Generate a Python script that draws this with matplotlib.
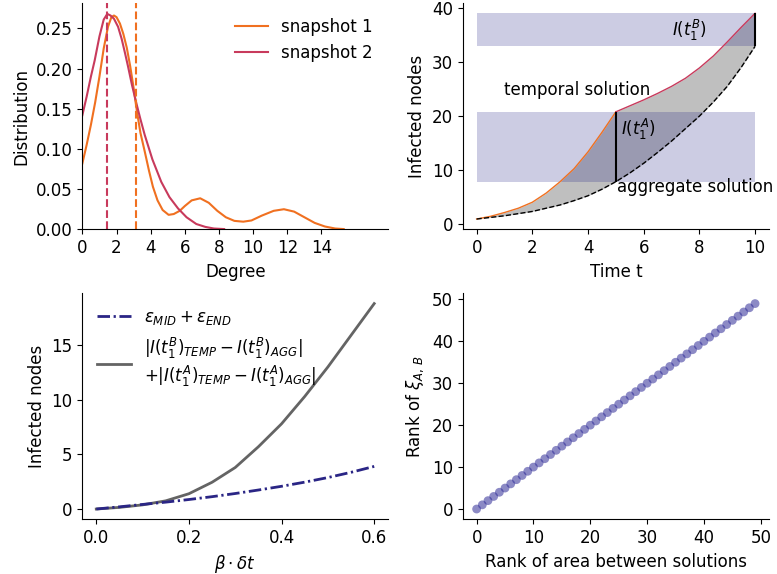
import matplotlib
matplotlib.use("Agg")
import matplotlib.pyplot as plt

plt.rcParams["font.size"] = 12
plt.rcParams["mathtext.fontset"] = "dejavusans"

# ---- degree distributions of two snapshots ----
deg_s1 = [0, 0.25, 0.5, 0.75, 1.0, 1.25, 1.5, 1.7, 1.85, 2.0, 2.2, 2.4, 2.6,
          2.8, 3.0, 3.2, 3.4, 3.65, 3.9, 4.13, 4.4, 4.7, 5.05, 5.35, 5.7, 6.0,
          6.4, 6.9, 7.4, 7.9, 8.4, 8.9, 9.42, 9.9, 10.5, 11.2, 11.8, 12.4,
          13.0, 13.6, 14.2, 14.8, 15.3]
dist_s1 = [0.082, 0.105, 0.13, 0.158, 0.19, 0.225, 0.252, 0.264, 0.266, 0.264,
           0.256, 0.243, 0.226, 0.203, 0.176, 0.146, 0.12, 0.097, 0.073,
           0.053, 0.036, 0.024, 0.018, 0.019, 0.023, 0.029, 0.036, 0.0386,
           0.033, 0.023, 0.015, 0.0105, 0.0095, 0.011, 0.017, 0.023, 0.025,
           0.022, 0.015, 0.008, 0.0035, 0.001, 0.0003]
deg_s2 = [0, 0.25, 0.5, 0.72, 1.0, 1.25, 1.46, 1.65, 1.85, 2.09, 2.3, 2.5,
          2.67, 2.9, 3.16, 3.4, 3.65, 4.1, 4.62, 5.1, 5.6, 6.1, 6.67, 7.2, 7.7,
          8.3]
dist_s2 = [0.142, 0.165, 0.19, 0.21, 0.24, 0.261, 0.268, 0.266, 0.262, 0.252,
           0.237, 0.219, 0.203, 0.18, 0.157, 0.137, 0.1175, 0.087, 0.059,
           0.04, 0.026, 0.015, 0.0066, 0.003, 0.001, 0.0003]
mark_s1 = 3.12
mark_s2 = 1.43

# ---- temporal vs aggregate SI solution ----
t_first = [0, 0.5, 1, 1.5, 2, 2.5, 3, 3.5, 4, 4.5, 5]
I_first = [1.0, 1.5, 2.2, 3.0, 4.1, 5.8, 7.9, 10.3, 13.4, 17.0, 20.8]
t_second = [5, 5.5, 6, 6.5, 7, 7.5, 8, 8.5, 9, 9.5, 10]
I_second = [20.8, 21.9, 23.0, 24.2, 25.5, 27.0, 28.9, 31.1, 33.7, 36.4, 39.0]
t_agg = [0, 0.5, 1, 1.5, 2, 2.5, 3, 3.5, 4, 4.5, 5, 5.5, 6, 6.5, 7, 7.5, 8,
         8.5, 9, 9.5, 10]
I_agg = [1.0, 1.3, 1.6, 2.0, 2.4, 3.0, 3.6, 4.4, 5.3, 6.5, 7.9, 9.5, 11.3,
         13.3, 15.4, 17.7, 20.0, 22.6, 25.5, 29.0, 32.9]
t1A = 5
t1B = 10

# ---- error vs beta*dt ----
bdt = [0, 0.05, 0.1, 0.15, 0.2, 0.25, 0.3, 0.35, 0.4, 0.45, 0.5, 0.55, 0.6]
eps_sum = [0, 0.2, 0.42, 0.63, 0.87, 1.13, 1.42, 1.74, 2.08, 2.46, 2.88,
           3.36, 3.9]
abs_diff = [0, 0.15, 0.38, 0.75, 1.4, 2.45, 3.8, 5.7, 7.8, 10.3, 13.0, 15.9,
            18.8]

# ---- rank comparison ----
rank_area = list(range(50))
rank_xi = list(range(50))

c_s1 = "#f07020"
c_s2 = "#c83a5c"
c_band = "#191980"
c_navy = "#2a2585"

fig = plt.figure(figsize=(7.77, 5.74), dpi=100)
ax1 = fig.add_axes([0.106, 0.6005, 0.3935, 0.3943])
ax2 = fig.add_axes([0.5955, 0.6005, 0.3942, 0.3943])
ax3 = fig.add_axes([0.106, 0.0953, 0.3935, 0.3937])
ax4 = fig.add_axes([0.5955, 0.0953, 0.3942, 0.3937])

for ax in (ax1, ax2, ax3, ax4):
    ax.spines["top"].set_visible(False)
    ax.spines["right"].set_visible(False)

# top-left
ax1.plot(deg_s1, dist_s1, color=c_s1, lw=1.5, label="snapshot 1")
ax1.plot(deg_s2, dist_s2, color=c_s2, lw=1.5, label="snapshot 2")
ax1.axvline(mark_s2, color=c_s2, ls="--", lw=1.5)
ax1.axvline(mark_s1, color=c_s1, ls="--", lw=1.5)
ax1.set_xlim(0, 17.9)
ax1.set_ylim(0, 0.2816)
ax1.set_xticks(range(0, 16, 2))
ax1.set_yticks([0, 0.05, 0.10, 0.15, 0.20, 0.25])
ax1.yaxis.set_major_formatter(matplotlib.ticker.FormatStrFormatter("%.2f"))
ax1.set_xlabel("Degree")
ax1.set_ylabel("Distribution")
ax1.legend(loc="upper right", frameon=False)

# top-right
I_temp = I_first + I_second[1:]
ax2.fill_between(t_agg, I_agg, I_temp, color="gray", alpha=0.5, lw=0)
iA = t_agg.index(t1A)
iB = t_agg.index(t1B)
ax2.fill_between([t_agg[0], t_agg[-1]], I_agg[iA], I_temp[iA],
                 color=c_band, alpha=0.22, lw=0)
ax2.fill_between([t_agg[0], t_agg[-1]], I_agg[iB], I_temp[iB],
                 color=c_band, alpha=0.22, lw=0)
ax2.plot(t_first, I_first, color=c_s1, lw=1)
ax2.plot(t_second, I_second, color=c_s2, lw=1)
ax2.plot(t_agg, I_agg, color="black", ls="--", lw=1)
ax2.vlines([t1A, t1B], [I_agg[iA], I_agg[iB]], [I_temp[iA], I_temp[iB]],
           color="black", lw=1.5)
ax2.text(1.0, 24.8, "temporal solution", va="center", ha="left")
ax2.text(5.03, 6.85, "aggregate solution", va="center", ha="left",
         clip_on=False)
ax2.text(5.2, 17.5, r"$I(t_1^A)$", va="center", ha="left")
ax2.text(7.0, 35.8, r"$I(t_1^B)$", va="center", ha="left")
ax2.set_xlim(-0.5, 10.5)
ax2.set_ylim(-0.9, 40.9)
ax2.set_xticks(range(0, 11, 2))
ax2.set_yticks(range(0, 41, 10))
ax2.set_xlabel("Time t")
ax2.set_ylabel("Infected nodes")

# bottom-left
ax3.plot(bdt, eps_sum, color=c_navy, lw=2, ls=(0, (4.5, 1.3, 0.8, 1.3)),
         label=r"$\varepsilon_{MID} + \varepsilon_{END}$", zorder=3)
ax3.plot(bdt, abs_diff, color="#646464", lw=2,
         label=r"$|I(t_1^B)_{TEMP} - I(t_1^B)_{AGG}|$" + "\n"
               + r"$+|I(t_1^A)_{TEMP} - I(t_1^A)_{AGG}|$")
ax3.set_xticks([0.0, 0.2, 0.4, 0.6])
ax3.set_yticks([0, 5, 10, 15])
ax3.set_xlabel(r"$\beta \cdot \delta t$")
ax3.set_ylabel("Infected nodes")
ax3.legend(loc="upper left", frameon=False)

# bottom-right
ax4.scatter(rank_area, rank_xi, s=40, color="#2e2a96", alpha=0.55,
            edgecolors="none")
ax4.set_xticks(range(0, 51, 10))
ax4.set_yticks(range(0, 51, 10))
ax4.set_xlabel("Rank of area between solutions")
ax4.set_ylabel(r"Rank of $\xi_{A,\,B}$")

fig.savefig("out.png", dpi=100)
